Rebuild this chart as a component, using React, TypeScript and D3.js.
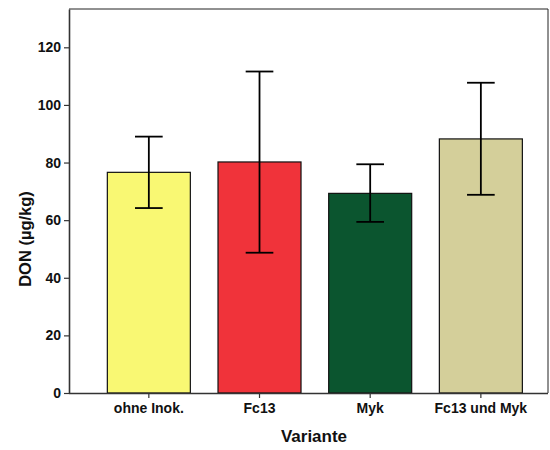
import React, { useRef, useEffect } from "react";
import * as d3 from "d3";

const categories = ["ohne Inok.", "Fc13", "Myk", "Fc13 und Myk"];
const means = [76.6, 80.2, 69.3, 88.2];
const upper = [89.0, 111.6, 79.4, 107.7];
const lower = [64.2, 48.7, 59.4, 68.8];
const colors = ["#f9f873", "#f0333a", "#0b552f", "#d4cf9a"];
const yTicks = [0, 20, 40, 60, 80, 100, 120];

export default function App() {
  const svgRef = useRef<SVGSVGElement>(null);

  useEffect(() => {
    const svg = d3.select(svgRef.current);
    svg.selectAll("*").remove();

    // plot frame
    const left = 69, right = 548, top = 9, bottom = 393;
    const font = "'Liberation Sans', Arial, sans-serif";

    const x = d3
      .scaleBand()
      .domain(categories)
      .range([93.5, 536.2])
      .paddingInner(0.25)
      .paddingOuter(0.125);

    const y = d3.scaleLinear().domain([0, 133.3]).range([bottom, top]);

    // top and right border
    svg
      .append("path")
      .attr("d", `M${left},${top}H${right}V${bottom}`)
      .attr("fill", "none")
      .attr("stroke", "#222")
      .attr("stroke-width", 1);

    // bars
    svg
      .selectAll(".bar")
      .data(categories)
      .enter()
      .append("rect")
      .attr("class", "bar")
      .attr("x", (d) => x(d)!)
      .attr("y", (d, i) => y(means[i]))
      .attr("width", x.bandwidth())
      .attr("height", (d, i) => bottom - y(means[i]))
      .attr("fill", (d, i) => colors[i])
      .attr("stroke", "#111")
      .attr("stroke-width", 1.2);

    // error bars
    const cap = x.bandwidth() / 3;
    const eb = svg.selectAll(".err").data(categories).enter().append("g").attr("class", "err");
    eb.append("line")
      .attr("x1", (d) => x(d)! + x.bandwidth() / 2)
      .attr("x2", (d) => x(d)! + x.bandwidth() / 2)
      .attr("y1", (d, i) => y(upper[i]))
      .attr("y2", (d, i) => y(lower[i]))
      .attr("stroke", "#000")
      .attr("stroke-width", 1.8);
    [upper, lower].forEach((arr) => {
      eb.append("line")
        .attr("x1", (d) => x(d)! + x.bandwidth() / 2 - cap / 2)
        .attr("x2", (d) => x(d)! + x.bandwidth() / 2 + cap / 2)
        .attr("y1", (d, i) => y(arr[i]))
        .attr("y2", (d, i) => y(arr[i]))
        .attr("stroke", "#000")
        .attr("stroke-width", 1.8);
    });

    // y axis
    const yAxis = svg
      .append("g")
      .attr("transform", `translate(${left},0)`)
      .call(d3.axisLeft(y).tickValues(yTicks).tickSize(5).tickPadding(3).tickSizeOuter(0));
    yAxis.select(".domain").attr("stroke", "#333").attr("stroke-width", 1.6);
    yAxis.selectAll(".tick line").attr("stroke", "#333").attr("stroke-width", 1.2);
    yAxis
      .selectAll(".tick text")
      .attr("font-family", font)
      .attr("font-size", 14)
      .attr("font-weight", "bold")
      .attr("fill", "#111");

    // x axis
    const xAxis = svg
      .append("g")
      .attr("transform", `translate(0,${bottom})`)
      .call(d3.axisBottom(x).tickSize(5).tickPadding(5).tickSizeOuter(0));
    xAxis.select(".domain").attr("d", `M${left},0.5H${right}`).attr("stroke", "#333").attr("stroke-width", 1.6);
    xAxis.selectAll(".tick line").attr("stroke", "#333").attr("stroke-width", 1.2);
    xAxis
      .selectAll(".tick text")
      .attr("font-family", font)
      .attr("font-size", 14)
      .attr("font-weight", "bold")
      .attr("fill", "#111");

    // axis titles
    svg
      .append("text")
      .attr("x", 314)
      .attr("y", 442)
      .attr("text-anchor", "middle")
      .attr("font-family", font)
      .attr("font-size", 17)
      .attr("font-weight", "bold")
      .attr("fill", "#111")
      .text("Variante");

    svg
      .append("text")
      .attr("transform", `translate(31,239) rotate(-90)`)
      .attr("text-anchor", "middle")
      .attr("font-family", font)
      .attr("font-size", 16.5)
      .attr("font-weight", "bold")
      .attr("fill", "#111")
      .text("DON (µg/kg)");
  }, []);

  return (
    <svg
      ref={svgRef}
      width={550}
      height={450}
      style={{ position: "absolute", left: 0, top: 0, background: "#fff" }}
    />
  );
}
